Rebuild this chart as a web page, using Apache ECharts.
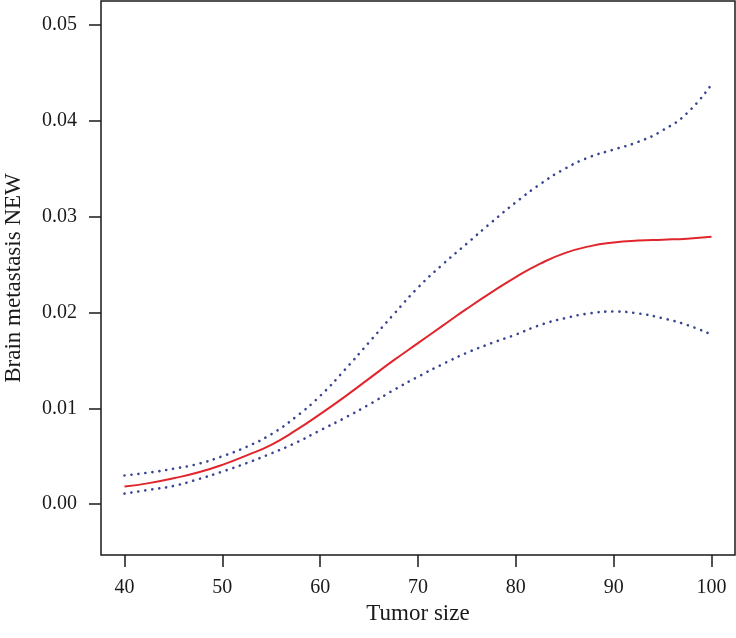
<!DOCTYPE html>
<html>
<head>
<meta charset="utf-8">
<script src="https://cdn.jsdelivr.net/npm/echarts@6/dist/echarts.min.js"></script>
<style>html,body{margin:0;padding:0;background:#fff;}#c{width:736px;height:638px;}</style>
</head>
<body>
<div id="c"></div>
<script>
const xValues = [40,42.5,45,47.5,50,52.5,55,57.5,60,62.5,65,67.5,70,72.5,75,77.5,80,82.5,85,87.5,90,92.5,95,97.5,100];
const fitValues = [0.00184,0.0022,0.0027,0.0033,0.0041,0.0051,0.0062,0.0077,0.0094,0.0112,0.0131,0.0150,0.0168,0.0186,0.0204,0.0221,0.0237,0.0251,0.0262,0.0269,0.0273,0.0275,0.0276,0.0277,0.0279];
const upperValues = [0.0030,0.0033,0.0037,0.0042,0.0050,0.0060,0.0073,0.0091,0.0113,0.0140,0.0169,0.0198,0.0226,0.0250,0.0272,0.0294,0.0315,0.0334,0.0350,0.0362,0.0370,0.0378,0.0390,0.0408,0.0438];
const lowerValues = [0.0011,0.0015,0.0019,0.0026,0.0034,0.0043,0.0053,0.0064,0.0077,0.0090,0.0104,0.0119,0.0133,0.0146,0.0158,0.0168,0.0177,0.0187,0.0194,0.0199,0.0201,0.0199,0.0194,0.0187,0.0177];
const xTicks = [40,50,60,70,80,90,100];
const yTicks = [0,0.01,0.02,0.03,0.04,0.05];

const pair = (ys) => xValues.map((x,i)=>[x, ys[i]]);
const font = '"Liberation Serif", "DejaVu Serif", serif';
const ink = '#1a1a1a';
const chart = echarts.init(document.getElementById('c'), null, {renderer:'canvas'});
chart.setOption({
  animation:false,
  backgroundColor:'#fff',
  grid:{left:101, right:1, top:1, bottom:83, show:true, borderColor:ink, borderWidth:1.5, backgroundColor:'transparent', containLabel:false, outerBoundsMode:'none'},
  xAxis:{
    type:'value', min:37.6, max:102.4,
    name:'Tumor size', nameLocation:'middle', nameGap:46,
    nameTextStyle:{fontFamily:font, fontSize:23, color:ink},
    axisLine:{show:false, onZero:false},
    splitLine:{show:false},
    axisTick:{show:true, inside:false, length:12, lineStyle:{color:ink, width:1.5}, customValues:xTicks},
    axisLabel:{fontFamily:font, fontSize:20, color:ink, margin:23, customValues:xTicks}
  },
  yAxis:{
    type:'value', min:-0.0053, max:0.0525,
    name:'Brain metastasis NEW', nameLocation:'middle', nameGap:76, nameRotate:90,
    nameTextStyle:{fontFamily:font, fontSize:23, color:ink},
    axisLine:{show:false, onZero:false},
    splitLine:{show:false},
    axisTick:{show:true, inside:false, length:12, lineStyle:{color:ink, width:1.5}, customValues:yTicks},
    axisLabel:{fontFamily:font, fontSize:20, color:ink, margin:24, customValues:yTicks, formatter:(v)=>v.toFixed(2)}
  },
  series:[
    {type:'line', data:pair(upperValues), smooth:0.5, showSymbol:false, lineStyle:{color:'#3a4592', width:2.6, type:[0.1,6.9], cap:'round'}},
    {type:'line', data:pair(lowerValues), smooth:0.5, showSymbol:false, lineStyle:{color:'#3a4592', width:2.6, type:[0.1,6.9], cap:'round'}},
    {type:'line', data:pair(fitValues), smooth:0.5, showSymbol:false, lineStyle:{color:'#e0262c', width:2}}
  ]
});
</script>
</body>
</html>
